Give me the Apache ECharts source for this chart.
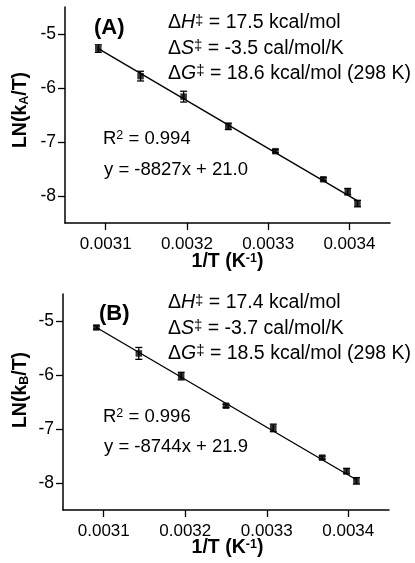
<!DOCTYPE html>
<html><head><meta charset="utf-8">
<script src="https://cdn.jsdelivr.net/npm/echarts@6/dist/echarts.min.js"></script>
<style>html,body{margin:0;padding:0;background:#fff}#c{width:415px;height:563px}</style>
</head><body><div id="c"></div>
<script>
// ---- data ----
const xA = [0.003091, 0.003143, 0.003196, 0.003251, 0.003309, 0.003368, 0.003398, 0.00341];
const yA = [-5.27, -5.78, -6.16, -6.71, -7.17, -7.69, -7.92, -8.14];
const errA = [0.07, 0.09, 0.10, 0.06, 0.03, 0.03, 0.06, 0.06];
const fitAx = [0.003091, 0.00341];
const fitAy = [-5.27, -8.09];

const xB = [0.003091, 0.003143, 0.003195, 0.00325, 0.003308, 0.003368, 0.003398, 0.00341];
const yB = [-5.12, -5.60, -6.02, -6.57, -6.98, -7.53, -7.78, -7.96];
const errB = [0.03, 0.11, 0.07, 0.03, 0.07, 0.03, 0.05, 0.06];
const fitBx = [0.003091, 0.00341];
const fitBy = [-5.12, -7.94];

const xTicks = [0.0031, 0.0032, 0.0033, 0.0034];
const yTicks = [-8, -7, -6, -5];

const annA = ['17.5 kcal/mol', '-3.5 cal/mol/K', '18.6 kcal/mol (298 K)', '0.994', 'y = -8827x + 21.0'];
const annB = ['17.4 kcal/mol', '-3.7 cal/mol/K', '18.5 kcal/mol (298 K)', '0.996', 'y = -8744x + 21.9'];

// ---- chart ----
const FONT = '"Liberation Sans", Arial, Helvetica, sans-serif';
const chart = echarts.init(document.getElementById('c'), null, {renderer: 'canvas'});

function pairs(xs, ys) { return xs.map((x, i) => [x, ys[i]]); }
function errData(xs, ys, es) { return xs.map((x, i) => [x, ys[i] - es[i], ys[i] + es[i]]); }

function errRender(params, api) {
  const x = api.value(0), lo = api.value(1), hi = api.value(2);
  const a = api.coord([x, lo]), b = api.coord([x, hi]);
  const w = 3.5;
  const st = {stroke: '#000', lineWidth: 1.3};
  return {type: 'group', children: [
    {type: 'line', shape: {x1: a[0], y1: a[1], x2: b[0], y2: b[1]}, style: st},
    {type: 'line', shape: {x1: a[0] - w, y1: a[1], x2: a[0] + w, y2: a[1]}, style: st},
    {type: 'line', shape: {x1: b[0] - w, y1: b[1], x2: b[0] + w, y2: b[1]}, style: st}
  ]};
}

function xAxisDef(gi) {
  return {
    type: 'value', gridIndex: gi, min: 0.00305, max: 0.00345,
    axisLine: {show: true, onZero: false, lineStyle: {color: '#000', width: 1.5}},
    axisTick: {show: true, length: 7, customValues: xTicks, lineStyle: {color: '#000', width: 1.3}},
    axisLabel: {customValues: xTicks, margin: 13, color: '#000', fontFamily: FONT, fontSize: 17,
      formatter: v => v.toFixed(4)},
    splitLine: {show: false}
  };
}
function yAxisDef(gi) {
  return {
    type: 'value', gridIndex: gi, min: -8.5, max: -4.5,
    axisLine: {show: true, onZero: false, lineStyle: {color: '#000', width: 1.5}},
    axisTick: {show: true, length: 7, customValues: yTicks, lineStyle: {color: '#000', width: 1.3}},
    axisLabel: {customValues: yTicks, margin: 9, color: '#000', fontFamily: FONT, fontSize: 17.5,
      formatter: v => String(v)},
    splitLine: {show: false}
  };
}

function panelSeries(gi, xs, ys, es, fx, fy) {
  return [
    {type: 'line', xAxisIndex: gi, yAxisIndex: gi, data: pairs(fx, fy), symbol: 'none',
      lineStyle: {color: '#000', width: 1.4}, silent: true},
    {type: 'custom', xAxisIndex: gi, yAxisIndex: gi, data: errData(xs, ys, es),
      renderItem: errRender, encode: {x: 0, y: [1, 2]}},
    {type: 'scatter', xAxisIndex: gi, yAxisIndex: gi, data: pairs(xs, ys), symbol: 'rect',
      symbolSize: 6.5, itemStyle: {color: '#000'}}
  ];
}

const richBase = {
  n: {fontFamily: FONT, fontSize: 19.5, color: '#000'},
  i: {fontFamily: FONT, fontSize: 19.5, fontStyle: 'italic', color: '#000'},
  s: {fontFamily: FONT, fontSize: 15, color: '#000', verticalAlign: 'top'},
  b: {fontFamily: FONT, fontSize: 19.5, fontWeight: 'bold', color: '#000'},
  bs: {fontFamily: FONT, fontSize: 12.5, fontWeight: 'bold', color: '#000', verticalAlign: 'bottom'},
  bp: {fontFamily: FONT, fontSize: 12.5, fontWeight: 'bold', color: '#000', verticalAlign: 'top'},
  r: {fontFamily: FONT, fontSize: 18.5, color: '#000'},
  rs: {fontFamily: FONT, fontSize: 12.5, color: '#000', verticalAlign: 'top'}
};

function txt(x, y, text, align, extra) {
  return Object.assign({type: 'text', x: x, y: y, silent: true,
    style: {text: text, rich: richBase, align: align || 'left', verticalAlign: 'middle',
      fontFamily: FONT, fill: '#000'}}, extra || {});
}

function panelGraphics(ann, label, sub, yc, labX, lines, rY, eY, yTitleY, xTitleY) {
  return [
    {type: 'text', x: labX, y: yc, silent: true,
      style: {text: '(' + label + ')', align: 'left', verticalAlign: 'middle',
        fontFamily: FONT, fontSize: 22, fontWeight: 'bold', fill: '#000'}},
    txt(168, lines[0], '{n|Δ}{i|H}{s|‡}{n| = ' + ann[0] + '}'),
    txt(168, lines[1], '{n|Δ}{i|S}{s|‡}{n| = ' + ann[1] + '}'),
    txt(168, lines[2], '{n|Δ}{i|G}{s|‡}{n| = ' + ann[2] + '}'),
    txt(103, rY, '{r|R}{rs|2}{r| = ' + ann[3] + '}'),
    txt(104, eY, '{r|' + ann[4] + '}'),
    txt(21, yTitleY, '{b|LN(k}{bs|' + sub + '}{b|/T)}', 'center', {rotation: Math.PI / 2}),
    txt(227.5, xTitleY, '{b|1/T (K}{bp|-1}{b|)}', 'center')
  ];
}

const option = {
  animation: false,
  backgroundColor: '#fff',
  grid: [
    {left: 65, top: 7, width: 325, height: 216},
    {left: 63, top: 294, width: 326, height: 216}
  ],
  xAxis: [xAxisDef(0), xAxisDef(1)],
  yAxis: [yAxisDef(0), yAxisDef(1)],
  series: [].concat(
    panelSeries(0, xA, yA, errA, fitAx, fitAy),
    panelSeries(1, xB, yB, errB, fitBx, fitBy)
  ),
  graphic: [].concat(
    panelGraphics(annA, 'A', 'A', 28, 94, [23, 48.8, 73.8], 138.5, 169.5, 110, 262),
    panelGraphics(annB, 'B', 'B', 314, 99, [303, 328.8, 353.8], 417, 447, 390, 548)
  )
};
chart.setOption(option);
</script>
</body></html>
